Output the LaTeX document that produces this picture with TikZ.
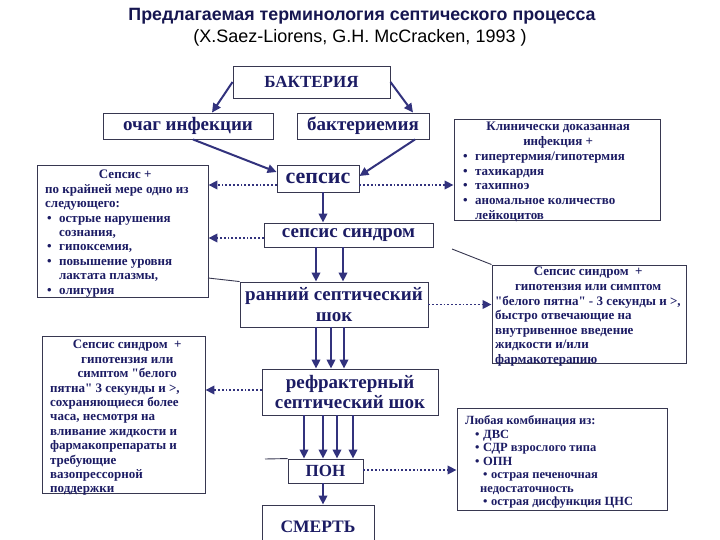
\documentclass[tikz,border=0pt]{standalone}
\usepackage{fontspec}
\setmainfont{Liberation Serif}
\newfontfamily\titlefont{Liberation Sans}
\usetikzlibrary{arrows.meta,calc}
\definecolor{navy}{RGB}{28,28,100}
\definecolor{arrc}{RGB}{50,50,125}
\definecolor{boxc}{RGB}{55,55,80}
\newcommand{\bul}{\makebox[12pt][l]{\textbullet}}
\newcommand{\bulx}{\makebox[8pt][l]{\textbullet}}
\newcommand{\qq}{{\addfontfeature{Ligatures=TeXOff}"}}
\tikzset{
 bx/.style={draw=boxc, line width=0.9pt, fill=white, inner sep=0pt, text=navy},
 bigf/.style={font=\fontsize{19}{21}\selectfont\bfseries},
 smallt/.style={text=navy, font=\fontsize{13}{14.4}\selectfont\bfseries, align=left, inner sep=0pt, anchor=north west},
 arr/.style={draw=arrc, line width=2pt, -{Triangle[length=9pt,width=8.5pt]}},
 darr/.style={draw=arrc, line width=1.8pt, dotted, -{Triangle[length=9pt,width=8.5pt]}},
 ln/.style={draw=boxc, line width=0.9pt},
}
\begin{document}
\begin{tikzpicture}[x=1pt,y=-1pt]
\useasboundingbox[fill=white] (0,0) rectangle (720,540);
% title
\node[text=navy!80!black, font=\titlefont\fontsize{17.8}{20}\selectfont\bfseries] (T1) at (362,16) {Предлагаемая терминология септического процесса};
\node[text=black, font=\titlefont\fontsize{18}{20}\selectfont] (T2) at (360,38) {(X.Saez-Liorens, G.H. McCracken, 1993 )};
% main chain
\node[bx, font=\fontsize{17}{19}\selectfont\bfseries, minimum width=157pt, minimum height=32pt] (BACT) at (311.5,82) {БАКТЕРИЯ};
\node[bx, bigf, minimum width=170pt, minimum height=26pt] (OCH) at (188,126) {очаг инфекции};
\node[bx, bigf, minimum width=132pt, minimum height=26pt] (BAK) at (363,126) {бактериемия};
\node[bx, font=\fontsize{22}{24}\selectfont\bfseries, minimum width=82pt, minimum height=27pt] (SEP) at (318,178.5) {сепсис};
\node[bx, bigf, minimum width=169pt, minimum height=24pt] (SS) at (348.5,235) {сепсис синдром};
\node[bx, bigf, align=center, minimum width=188pt, minimum height=45pt] (EARLY) at (334,304.5) {ранний септический\\[-0.5pt]шок};
\node[bx, bigf, align=center, minimum width=176pt, minimum height=46pt] (REF) at (350,392) {рефрактерный\\[-1pt]септический шок};
\node[bx, font=\fontsize{17}{19}\selectfont\bfseries, minimum width=75pt, minimum height=24pt] (PON) at (325.5,471) {ПОН};
\node[bx, minimum width=112pt, minimum height=43pt] (DEATH) at (318,526.5) {};
\node[text=navy, font=\fontsize{17.5}{19}\selectfont\bfseries] (DEATHt) at (318,527) {СМЕРТЬ};
% side boxes
\node[bx, minimum width=171pt, minimum height=132pt] (L1) at (122.5,231) {};
\node[bx, minimum width=163pt, minimum height=157pt] (L2) at (123.5,414.5) {};
\node[bx, minimum width=206pt, minimum height=101pt] (R1) at (557,169.5) {};
\node[bx, minimum width=194pt, minimum height=98pt] (R2) at (589,314) {};
\node[bx, minimum width=210pt, minimum height=102pt] (R3) at (562,459) {};
\node[smallt] (L1t) at (45,170) {\makebox[160pt][c]{Сепсис +}\\
по крайней мере одно из\\
следующего:\\
\hspace*{2pt}\bul острые нарушения\\
\hspace*{14pt}сознания,\\
\hspace*{2pt}\bul гипоксемия,\\
\hspace*{2pt}\bul повышение уровня\\
\hspace*{14pt}лактата плазмы,\\
\hspace*{2pt}\bul олигурия};
\node[smallt, font=\fontsize{13}{14.8}\selectfont\bfseries] (R1t) at (463,122) {\makebox[190pt][c]{Клинически доказанная}\\
\makebox[190pt][c]{инфекция +}\\
\bul гипертермия/гипотермия\\
\bul тахикардия\\
\bul тахипноэ\\
\bul аномальное количество\\
\hspace*{12pt}лейкоцитов};
\node[smallt, font=\fontsize{13}{14.6}\selectfont\bfseries] (R2t) at (495,267) {\makebox[186pt][c]{Сепсис синдром\ \ +}\\
\makebox[186pt][c]{гипотензия или симптом}\\
\qq белого пятна\qq{} - 3 секунды и >,\\
быстро отвечающие на\\
внутривенное введение\\
жидкости и/или\\
фармакотерапию};
\node[smallt] (L2t) at (50,340) {\makebox[154pt][c]{Сепсис синдром\ \ +}\\
\makebox[154pt][c]{гипотензия или}\\
\makebox[154pt][c]{симптом \qq белого}\\
пятна\qq{} 3 секунды и >,\\
сохраняющиеся более\\
часа, несмотря на\\
вливание жидкости и\\
фармакопрепараты и\\
требующие\\
вазопрессорной\\
поддержки};
\node[smallt, font=\fontsize{12.5}{13.5}\selectfont\bfseries] (R3t) at (465,415.5) {Любая комбинация из:\\
\hspace*{10pt}\bulx ДВС\\
\hspace*{10pt}\bulx СДР взрослого типа\\
\hspace*{10pt}\bulx ОПН\\
\hspace*{18pt}\bulx острая печеночная\\
\hspace*{15pt}недостаточность\\
\hspace*{18pt}\bulx острая дисфункция ЦНС};
% coordinates
\coordinate (s1) at ([yshift=-6.5pt]SEP.west);
\coordinate (s2) at ([yshift=-6.5pt]SEP.east);
\coordinate (s3) at ([xshift=5pt]SEP.south);
\coordinate (ss1) at ([yshift=-3pt]SS.west);
\coordinate (ss2) at ([xshift=-32.5pt]SS.south);
\coordinate (ss3) at ([xshift=-5.5pt]SS.south);
\coordinate (e1) at ([xshift=-18pt]EARLY.south);
\coordinate (e2) at ([xshift=-3pt]EARLY.south);
\coordinate (e3) at ([xshift=10pt]EARLY.south);
\coordinate (r0) at ([yshift=2pt]REF.west);
\coordinate (r1) at ([xshift=-46pt]REF.south);
\coordinate (r2) at ([xshift=-27pt]REF.south);
\coordinate (r3) at ([xshift=-13pt]REF.south);
\coordinate (r4) at ([xshift=3pt]REF.south);
\coordinate (p1) at ([xshift=-2.5pt]PON.south);
\coordinate (p2) at ([yshift=1pt]PON.east);
\coordinate (lk1) at (208,278);
\coordinate (lk2) at (452,249);
\coordinate (lk3) at (265,459);
% arrows
\draw[arr] (BACT.west) -- ([xshift=24pt]OCH.north);
\draw[arr] (BACT.east) -- ([xshift=50pt]BAK.north);
\draw[arr] ([xshift=5pt]OCH.south) -- ([yshift=6.5pt]SEP.west);
\draw[arr] ([xshift=52pt]BAK.south) -- ([yshift=2.5pt]SEP.east);
\draw[darr] (s1) -- (s1 -| L1.east);
\draw[darr] (s2) -- (s2 -| R1.west);
\draw[arr] (s3) -- (s3 |- SS.north);
\draw[darr] (ss1) -- (ss1 -| L1.east);
\draw[arr] (ss2) -- (ss2 |- EARLY.north);
\draw[arr] (ss3) -- (ss3 |- EARLY.north);
\draw[darr] (EARLY.east) -- (EARLY.east -| R2.west);
\draw[arr] (e1) -- (e1 |- REF.north);
\draw[arr] (e2) -- (e2 |- REF.north);
\draw[arr] (e3) -- (e3 |- REF.north);
\draw[darr] (r0) -- (r0 -| L2.east);
\draw[arr] (r1) -- (r1 |- PON.north);
\draw[arr] (r2) -- (r2 |- PON.north);
\draw[arr] (r3) -- (r3 |- PON.north);
\draw[arr] (r4) -- (r4 |- PON.north);
\draw[darr] (p2) -- (p2 -| R3.west);
\draw[arr] (p1) -- (p1 |- DEATH.north);
\draw[ln] (lk1) -- (EARLY.north west);
\draw[ln] (lk2) -- (R2.north west);
\draw[ln] (lk3) -- (PON.north west);
\end{tikzpicture}
\end{document}
